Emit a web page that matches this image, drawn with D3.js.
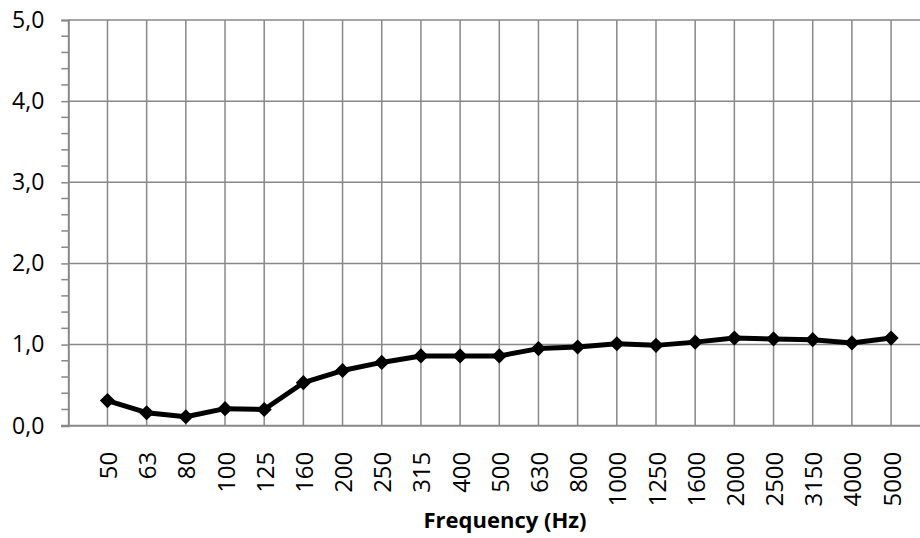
<!DOCTYPE html>
<html>
<head>
<meta charset="utf-8">
<script src="https://cdn.jsdelivr.net/npm/d3@7"></script>
<style>
  html, body { margin: 0; padding: 0; background: #fff; }
  svg { display: block; }
  text { font-family: "Open Sans", Lato, sans-serif; fill: #000; }
</style>
</head>
<body>
<svg id="chart" width="920" height="538"></svg>
<script>
const categories = ["50","63","80","100","125","160","200","250","315","400","500","630","800","1000","1250","1600","2000","2500","3150","4000","5000"];
const values = [0.31,0.16,0.11,0.21,0.20,0.53,0.68,0.78,0.86,0.86,0.86,0.95,0.97,1.01,0.99,1.03,1.08,1.07,1.06,1.02,1.08];
const yTicks = [0,1,2,3,4,5];
const yMinorTicks = [0.2,0.4,0.6,0.8,1.2,1.4,1.6,1.8,2.2,2.4,2.6,2.8,3.2,3.4,3.6,3.8,4.2,4.4,4.6,4.8];
const xTitle = "Frequency (Hz)";

const svg = d3.select("#chart");
const mLeft = 68.3, mTop = 20, mBottom = 425.7;
const step = 39.18;
const mRight = mLeft + step * 22;

const x = d3.scalePoint().domain(categories).range([mLeft + step, mLeft + step * 21]);
const y = d3.scaleLinear().domain([0, 5]).range([mBottom, mTop]);
const grid = "#888888";

// horizontal gridlines
svg.append("g").selectAll("line").data(yTicks.filter(d => d > 0)).join("line")
  .attr("x1", mLeft).attr("x2", mRight)
  .attr("y1", d => y(d)).attr("y2", d => y(d))
  .attr("stroke", grid).attr("stroke-width", 1.5);

// vertical gridlines
svg.append("g").selectAll("line").data(categories).join("line")
  .attr("x1", d => x(d)).attr("x2", d => x(d))
  .attr("y1", mTop).attr("y2", mBottom)
  .attr("stroke", grid).attr("stroke-width", 1.5);

// y axis
const yAxis = d3.axisLeft(y).tickValues(yTicks).tickSize(7).tickPadding(17)
  .tickFormat(d => d3.format(".1f")(d).replace(".", ","));
const ya = svg.append("g").attr("transform", `translate(${mLeft},0)`).call(yAxis);
ya.select(".domain").attr("stroke", grid).attr("stroke-width", 2);
ya.selectAll(".tick line").attr("stroke", grid).attr("stroke-width", 1.5);
ya.selectAll("text").style("font-size", "23px").style("font-family", "'Open Sans', Lato, sans-serif").attr("fill", "#000");

// minor ticks
svg.append("g").selectAll("line").data(yMinorTicks).join("line")
  .attr("x1", mLeft - 7).attr("x2", mLeft)
  .attr("y1", d => y(d)).attr("y2", d => y(d))
  .attr("stroke", grid).attr("stroke-width", 1.5);

// x axis line
svg.append("line").attr("x1", mLeft - 7).attr("x2", mRight)
  .attr("y1", mBottom).attr("y2", mBottom)
  .attr("stroke", grid).attr("stroke-width", 2);

// x labels
svg.append("g").selectAll("text").data(categories).join("text")
  .attr("transform", d => `translate(${x(d) + 9.5},${mBottom + 26}) rotate(-90)`)
  .attr("text-anchor", "end")
  .style("font-size", "24px")
  .text(d => d);

// x title
svg.append("text")
  .attr("x", 505).attr("y", 528)
  .attr("text-anchor", "middle")
  .style("font-size", "22px").style("font-weight", "bold")
  .text(xTitle);

// line series
const line = d3.line().x((d, i) => x(categories[i])).y(d => y(d));
svg.append("path").datum(values)
  .attr("d", line).attr("fill", "none")
  .attr("stroke", "#000").attr("stroke-width", 5).attr("stroke-linejoin", "round");

// diamond markers
const sym = d3.symbol().type(d3.symbolSquare).size(115);
svg.append("g").selectAll("path").data(values).join("path")
  .attr("d", sym)
  .attr("transform", (d, i) => `translate(${x(categories[i])},${y(d)}) rotate(45)`)
  .attr("fill", "#000");
</script>
</body>
</html>
